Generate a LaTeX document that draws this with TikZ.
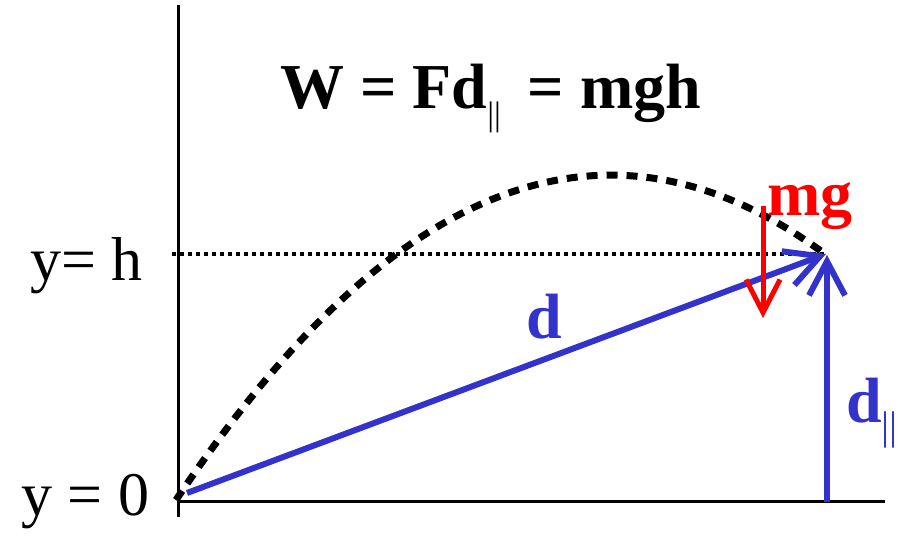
\documentclass[tikz,border=0pt]{standalone}
\usepackage{fontspec}
\setmainfont{Liberation Serif}
\usetikzlibrary{arrows.meta}
\definecolor{vblue}{RGB}{51,51,204}
\definecolor{vred}{RGB}{255,0,0}
\tikzset{
  axis/.style={draw=black, line width=3pt},
  traj/.style={draw=black, line width=7pt, dash pattern=on 11pt off 9pt},
  level/.style={draw=black, line width=4pt, dash pattern=on 4pt off 4pt},
  vec/.style={draw=vblue, line width=6pt, -{Straight Barb[length=34pt,width=36pt,line width=6pt]}},
  force/.style={draw=vred, line width=5pt, -{Straight Barb[length=33pt,width=34pt,line width=5pt]}},
  lab/.style={inner sep=0pt, anchor=base west, font=\fontsize{62}{74}\selectfont},
  blab/.style={inner sep=0pt, anchor=base west, font=\fontsize{64}{76}\selectfont\bfseries}
}
\newcommand{\parsub}[1]{\raisebox{-0.27em}{\fontsize{#1}{#1}\selectfont\mdseries ||}}
\begin{document}
\begin{tikzpicture}[x=1pt,y=-1pt]
\useasboundingbox (0,0) rectangle (899,538);
% axes
\coordinate (vtop) at (178,5);
\coordinate (vbot) at (178,517);
\coordinate (o) at (178,501);
\coordinate (hend) at (885,501);
\draw[axis] (vtop) -- (vbot);
\draw[axis] (o) -- (hend);
% level y=h
\coordinate (hstart) at (172,254);
\coordinate (top) at (825,254);
\draw[level] (hstart) -- (top);
% trajectory
\coordinate (start) at (176,500);
\draw[traj] (start) .. controls (392.4,176.7) and (608.7,94.7) .. (top);
% vectors
\coordinate (dstart) at (187,493);
\coordinate (dtip) at (826,254);
\draw[vec] (dstart) -- (dtip);
\coordinate (pbot) at (827,502);
\coordinate (ptip) at (827,255);
\draw[vec] (pbot) -- (ptip);
\coordinate (mgtop) at (763,206);
\coordinate (mgtip) at (763,318);
\draw[force] (mgtop) -- (mgtip);
% labels
\node[blab] (title) at (280,108) {W = Fd\parsub{34}\, = mgh};
\node[blab, text=vred] (mg) at (767,215) {mg};
\node[blab, text=vblue] (dl) at (526,338) {d};
\node[blab, text=vblue] (dp) at (846,422) {d\parsub{40}};
\node[lab] (yh) at (30,280) {y= h};
\node[lab] (y0) at (21,515) {y = 0};
\end{tikzpicture}
\end{document}
